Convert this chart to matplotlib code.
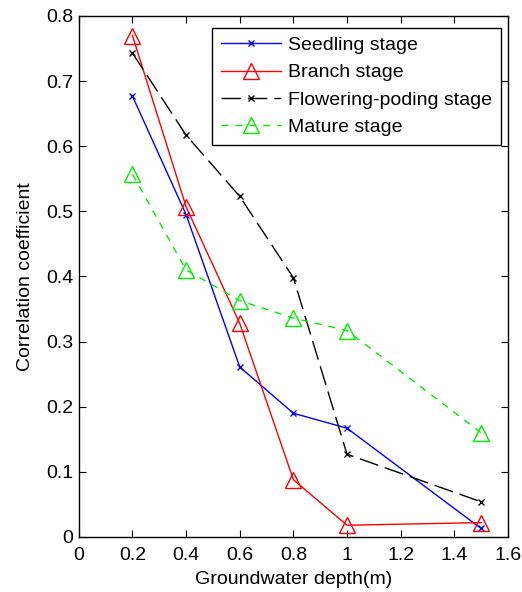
import matplotlib.pyplot as plt

plt.rcParams['font.family'] = ['Liberation Sans', 'DejaVu Sans']

# data
depth = [0.2, 0.4, 0.6, 0.8, 1.0, 1.5]
seedling = [0.677, 0.495, 0.261, 0.190, 0.167, 0.013]
branch = [0.770, 0.507, 0.328, 0.088, 0.018, 0.022]
flowering = [0.743, 0.617, 0.523, 0.398, 0.127, 0.054]
mature = [0.557, 0.410, 0.363, 0.336, 0.317, 0.160]
labels = ["Seedling stage", "Branch stage", "Flowering-poding stage", "Mature stage"]

fs = 14

fig = plt.figure(figsize=(5.22, 5.92), dpi=100)
ax = fig.add_axes([0.151, 0.093, 0.822, 0.880])

ax.plot(depth, seedling, color="blue", lw=1, marker="x", ms=5, label=labels[0])
ax.plot(depth, branch, color="red", lw=1, marker="^", ms=12, mfc="none", mew=1, label=labels[1])
ax.plot(depth, flowering, color="black", lw=1, marker="x", ms=5, dashes=(14, 5), label=labels[2])
ax.plot(depth, mature, color="#00ee00", lw=1, dashes=(5, 5), marker="^", ms=12, mfc="none", mew=1, label=labels[3])

ax.set_xlim(0, 1.6)
ax.set_ylim(0, 0.8)
ax.set_xticks([0, 0.2, 0.4, 0.6, 0.8, 1, 1.2, 1.4, 1.6])
ax.set_xticklabels(["0", "0.2", "0.4", "0.6", "0.8", "1", "1.2", "1.4", "1.6"])
ax.set_yticks([0, 0.1, 0.2, 0.3, 0.4, 0.5, 0.6, 0.7, 0.8])
ax.set_yticklabels(["0", "0.1", "0.2", "0.3", "0.4", "0.5", "0.6", "0.7", "0.8"])
ax.tick_params(direction="in", top=True, right=True, labelsize=fs, length=5)
ax.tick_params(axis="x", pad=7)
ax.tick_params(axis="y", pad=4)
for s in ax.spines.values():
    s.set_linewidth(1)

ax.set_xlabel("Groundwater depth(m)", fontsize=fs, labelpad=5)
ax.set_ylabel("Correlation coefficient", fontsize=fs, labelpad=9)

leg = ax.legend(loc="upper right", bbox_to_anchor=(0.992, 0.985), fontsize=fs, fancybox=False,
                edgecolor="black", framealpha=1, handlelength=3.1, handletextpad=0.35,
                borderpad=0.45, labelspacing=0.5, borderaxespad=0.2)
leg.get_frame().set_linewidth(1)

fig.savefig("out.png", dpi=100)
